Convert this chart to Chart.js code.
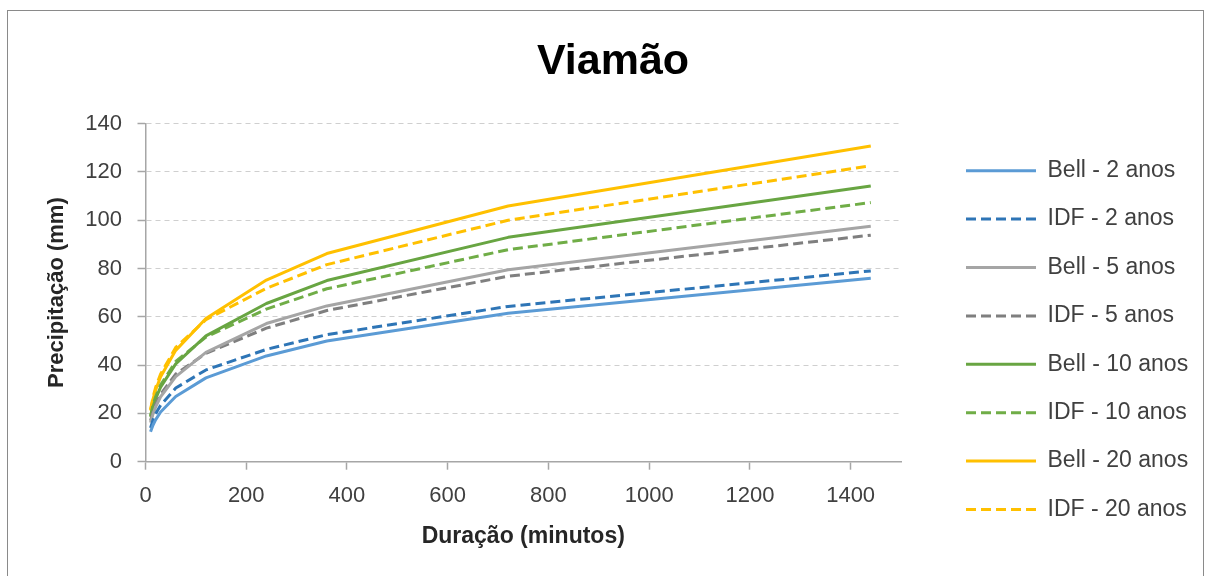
<!DOCTYPE html>
<html>
<head>
<meta charset="utf-8">
<script src="https://cdn.jsdelivr.net/npm/chart.js@4.4.1/dist/chart.umd.min.js"></script>
<style>
  html, body { margin: 0; padding: 0; background: #ffffff; overflow: hidden; }
  #wrap { position: relative; width: 1205px; height: 576px; }
  #frame { position: absolute; left: 7px; top: 10px; width: 1197px; height: 700px;
           border: 1px solid #8a8a8a; box-sizing: border-box; pointer-events: none; }
  #c { position: absolute; left: 0; top: 0; }
</style>
</head>
<body>
<div id="wrap">
  <div id="frame"></div>
  <canvas id="c" width="1205" height="576"></canvas>
</div>
<script>
// Duração da chuva (minutos)
const durations = [10, 15, 20, 30, 60, 120, 240, 360, 720, 1440];

// Precipitação (mm) – método de Bell e equação IDF, por tempo de retorno
const bell2  = [12.4, 15.2, 17.3, 20.6, 27.0, 34.7, 43.8, 50.0, 61.5, 76.0];
const idf2   = [14.0, 17.3, 19.8, 23.4, 30.5, 38.0, 46.5, 52.6, 64.3, 79.0];
const bell5  = [16.2, 19.8, 22.6, 26.9, 35.2, 45.3, 57.2, 64.5, 79.5, 97.5];
const idf5   = [17.0, 20.6, 23.6, 27.9, 36.3, 44.9, 55.3, 62.6, 76.8, 93.8];
const bell10 = [18.6, 22.8, 26.0, 30.9, 40.5, 52.1, 65.5, 75.0, 92.9, 114.2];
const idf10  = [19.0, 23.5, 26.9, 31.8, 41.5, 51.6, 63.2, 71.6, 87.8, 107.3];
const bell20 = [21.2, 26.0, 29.6, 35.2, 46.1, 59.3, 75.2, 86.2, 105.9, 130.7];
const idf20  = [21.6, 26.8, 30.7, 36.3, 47.3, 58.8, 71.8, 81.6, 100.0, 122.5];

const seriesLabels = ['Bell - 2 anos', 'IDF - 2 anos', 'Bell - 5 anos', 'IDF - 5 anos',
                      'Bell - 10 anos', 'IDF - 10 anos', 'Bell - 20 anos', 'IDF - 20 anos'];

// Axis ranges and tick values
const xMin = 0, xMax = 1500;
const xTicks = [0, 200, 400, 600, 800, 1000, 1200, 1400];
const yMin = 0, yMax = 140, yStep = 20;

const FONT = "'Liberation Sans', Arial, sans-serif";
const TEXT = '#404040';
const AXIS = '#a6a6a6';

function toPoints(values) {
  return durations.map((d, i) => ({ x: d, y: values[i] }));
}

function series(label, values, color, dashed) {
  return {
    label: label,
    data: toPoints(values),
    borderColor: color,
    backgroundColor: color,
    borderWidth: 3,
    borderDash: dashed ? [10, 5] : [],
    borderJoinStyle: 'round',
    pointRadius: 0,
    pointHoverRadius: 0,
    tension: 0,
    fill: false
  };
}

const datasets = [
  series(seriesLabels[0], bell2,  '#5b9bd5', false),
  series(seriesLabels[1], idf2,   '#2e75b6', true),
  series(seriesLabels[2], bell5,  '#a5a5a5', false),
  series(seriesLabels[3], idf5,   '#7f7f7f', true),
  series(seriesLabels[4], bell10, '#68a542', false),
  series(seriesLabels[5], idf10,  '#70ad47', true),
  series(seriesLabels[6], bell20, '#ffc000', false),
  series(seriesLabels[7], idf20,  '#ffc000', true)
];

// Keeps the legend column in a fixed box to the right of the plot
const legendBox = {
  id: 'legendBox',
  beforeLayout(chart) {
    const lg = chart.legend;
    if (lg && !lg._fixedWidth) {
      const fit = lg.fit.bind(lg);
      lg.fit = function () { fit(); this.width = 304; };
      lg._fixedWidth = true;
    }
  },
  afterLayout(chart) {
    const lg = chart.legend;
    if (!lg) return;
    lg.left = 940.6;
    lg.right = lg.left + 262;
    lg.top = 100;
    lg.bottom = 580.2;
  }
};

// Legend entries carry each series' own dash pattern and width
function legendLabels(chart) {
  const items = Chart.defaults.plugins.legend.labels.generateLabels(chart);
  items.forEach(item => {
    const ds = chart.data.datasets[item.datasetIndex];
    item.lineDash = ds.borderDash;
    item.lineWidth = ds.borderWidth;
    item.strokeStyle = ds.borderColor;
    item.fillStyle = ds.borderColor;
  });
  return items;
}

new Chart(document.getElementById('c'), {
  type: 'line',
  data: { datasets: datasets },
  plugins: [legendBox],
  options: {
    responsive: false,
    animation: false,
    devicePixelRatio: 1,
    events: [],
    layout: { padding: { left: 21, right: 0, top: 0, bottom: 0 } },
    plugins: {
      title: {
        display: true,
        text: 'Viamão',
        color: '#000000',
        font: { family: FONT, size: 43, weight: 'bold' },
        padding: { top: 36.2, bottom: 35.8 }
      },
      legend: {
        position: 'right',
        labels: {
          usePointStyle: true,
          pointStyle: 'line',
          pointStyleWidth: 70,
          padding: 25.4,
          color: TEXT,
          font: { family: FONT, size: 23 },
          generateLabels: legendLabels
        }
      },
      tooltip: { enabled: false }
    },
    scales: {
      x: {
        type: 'linear',
        min: xMin,
        max: xMax,
        afterBuildTicks: s => { s.ticks = xTicks.map(v => ({ value: v })); },
        afterFit: s => { s.height = 114.3; },
        ticks: {
          autoSkip: false,
          maxRotation: 0,
          padding: 12.8,
          color: TEXT,
          font: { family: FONT, size: 22 },
          callback: v => String(v)
        },
        grid: {
          drawOnChartArea: false,
          drawTicks: true,
          tickLength: 8,
          tickColor: AXIS,
          tickWidth: 1.5
        },
        border: { color: AXIS, width: 1.5 },
        title: {
          display: true,
          text: 'Duração (minutos)',
          color: '#262626',
          font: { family: FONT, size: 23, weight: 'bold' },
          padding: { top: 0, bottom: 25.2 }
        }
      },
      y: {
        type: 'linear',
        min: yMin,
        max: yMax,
        afterFit: s => { s.width = 124.5; },
        ticks: {
          stepSize: yStep,
          padding: 15.5,
          color: TEXT,
          font: { family: FONT, size: 22 },
          callback: v => String(v)
        },
        grid: {
          color: '#cfcfcf',
          lineWidth: 1,
          drawTicks: true,
          tickLength: 8,
          tickColor: AXIS,
          tickWidth: 1.5,
          tickBorderDash: []
        },
        border: { color: AXIS, width: 1.5, dash: [5, 4] },
        title: {
          display: true,
          text: 'Precipitação (mm)',
          color: '#262626',
          font: { family: FONT, size: 22, weight: 'bold' },
          padding: { top: 22.8, bottom: 0 }
        }
      }
    }
  }
});
</script>
</body>
</html>
